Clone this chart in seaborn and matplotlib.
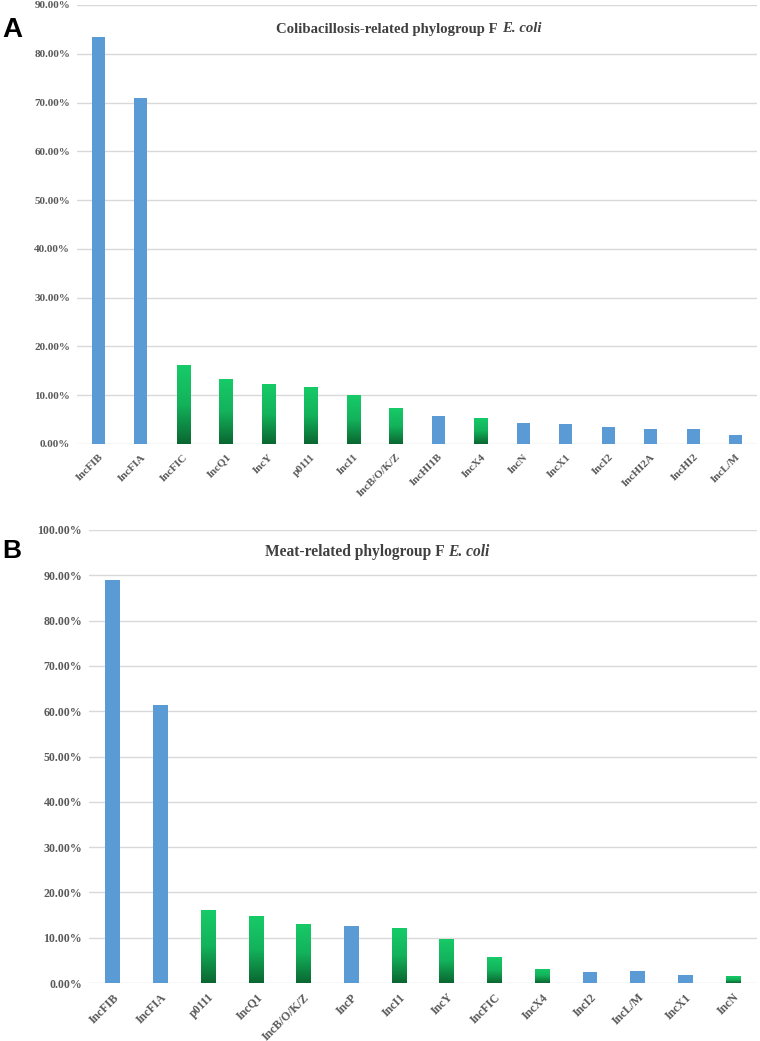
import numpy as np
import matplotlib
matplotlib.use("Agg")
import matplotlib.pyplot as plt
import matplotlib.colors as mcolors
import seaborn as sns

# ---- data ----
a_categories = ["IncFIB", "IncFIA", "IncFIC", "IncQ1", "IncY", "p0111", "IncI1", "IncB/O/K/Z",
                "IncHI1B", "IncX4", "IncN", "IncX1", "IncI2", "IncHI2A", "IncHI2", "IncL/M"]
a_values = [83.4, 71.0, 16.1, 13.3, 12.2, 11.7, 10.0, 7.3, 5.7, 5.4, 4.3, 4.2, 3.4, 3.1, 3.1, 1.8]
a_groups = ["blue", "blue", "green", "green", "green", "green", "green", "green",
            "blue", "green", "blue", "blue", "blue", "blue", "blue", "blue"]
a_title = "Colibacillosis-related phylogroup F"

b_categories = ["IncFIB", "IncFIA", "p0111", "IncQ1", "IncB/O/K/Z", "IncP", "IncI1", "IncY",
                "IncFIC", "IncX4", "IncI2", "IncL/M", "IncX1", "IncN"]
b_values = [89.0, 61.4, 16.1, 14.7, 13.1, 12.6, 12.1, 9.8, 5.7, 3.2, 2.4, 2.6, 1.7, 1.5]
b_groups = ["blue", "blue", "green", "green", "green", "blue", "green", "green",
            "green", "green", "blue", "blue", "blue", "green"]
b_title = "Meat-related phylogroup F"

# ---- style ----
sns.set_theme(style="white")
plt.rcParams["font.family"] = ["Liberation Serif", "DejaVu Serif"]

BLUE = "#5B9BD5"
GREEN_TOP = "#17CB68"
GREEN_BOT = "#0A6630"
TXT = "#595959"
TITLE = "#404040"
GRID = "#D9D9D9"

W, H = 760, 1041
fig = plt.figure(figsize=(W / 100, H / 100), dpi=100)
fig.patch.set_facecolor("white")
renderer = fig.canvas.get_renderer()

green_cmap = mcolors.LinearSegmentedColormap.from_list(
    "g", [(0.0, GREEN_BOT), (0.5, "#13B25B"), (1.0, GREEN_TOP)])


def panel(rect_px, cats, vals, groups, ymax, fs, title, tfs, title_cx, title_cy,
          letter, letter_y, lfs):
    x0, x1, ytop, ybot = rect_px
    ax = fig.add_axes([x0 / W, 1 - ybot / H, (x1 - x0) / W, (ybot - ytop) / H])
    pal = {c: (BLUE if g == "blue" else GREEN_TOP) for c, g in zip(cats, groups)}
    sns.barplot(x=cats, y=vals, hue=cats, palette=pal, width=0.31, legend=False,
                ax=ax, saturation=1, zorder=3, linewidth=0)
    ax.set_ylim(0, ymax)
    ax.set_xlim(-0.5, len(cats) - 0.5)
    ticks = np.arange(0, ymax + 0.1, 10)
    ax.set_yticks(ticks)
    ax.set_yticklabels([f"{t:.2f}%" for t in ticks], fontsize=fs, fontweight="bold", color=TXT)
    ax.set_xticks(range(len(cats)))
    ax.set_xticklabels(cats, rotation=45, ha="right", rotation_mode="anchor",
                       fontsize=fs, fontweight="bold", color=TXT)
    ax.tick_params(axis="both", length=0)
    ax.tick_params(axis="y", pad=5)
    ax.tick_params(axis="x", pad=6)
    for t in ticks:
        ax.axhline(t, color=GRID, lw=1.0, zorder=1)
    for s in ax.spines.values():
        s.set_visible(False)
    ax.set_xlabel("")
    ax.set_ylabel("")
    # gradient for green bars
    grad = np.linspace(0, 1, 256).reshape(-1, 1)
    for patch, g in zip(ax.patches, groups):
        if g == "green":
            bx = patch.get_x()
            bw = patch.get_width()
            bh = patch.get_height()
            im = ax.imshow(grad, cmap=green_cmap, origin="lower", aspect="auto",
                           extent=[bx, bx + bw, 0, bh], zorder=4)
            im.set_clip_path(patch)
    ax.set_xlim(-0.5, len(cats) - 0.5)
    ax.set_ylim(0, ymax)
    # title: bold part + bold italic species name, centred at title_cx (pixels)
    ty = 1 - title_cy / H
    t1 = fig.text(0, ty, title, ha="left", va="center", fontsize=tfs,
                  fontweight="bold", color=TITLE)
    t2 = fig.text(0, ty, "E. coli", ha="left", va="center", fontsize=tfs,
                  fontweight="bold", style="italic", color=TITLE)
    gap = 4
    w1 = t1.get_window_extent(renderer).width
    w2 = t2.get_window_extent(renderer).width
    start = title_cx - (w1 + gap + w2) / 2
    t1.set_x(start / W)
    t2.set_x((start + w1 + gap) / W)
    fig.text(2 / W, 1 - letter_y / H, letter, fontsize=lfs, fontweight="bold",
             family=["Liberation Sans", "DejaVu Sans"], color="black", va="center", ha="left")
    return ax


panel((77, 757, 5, 444), a_categories, a_values, a_groups, 90, 8.0,
      a_title, 10.6, 409, 29, "A", 30, 20)
panel((89, 757, 530, 983), b_categories, b_values, b_groups, 100, 8.6,
      b_title, 11.2, 377, 552, "B", 551, 19)

fig.savefig("out.png", dpi=100, facecolor="white")
